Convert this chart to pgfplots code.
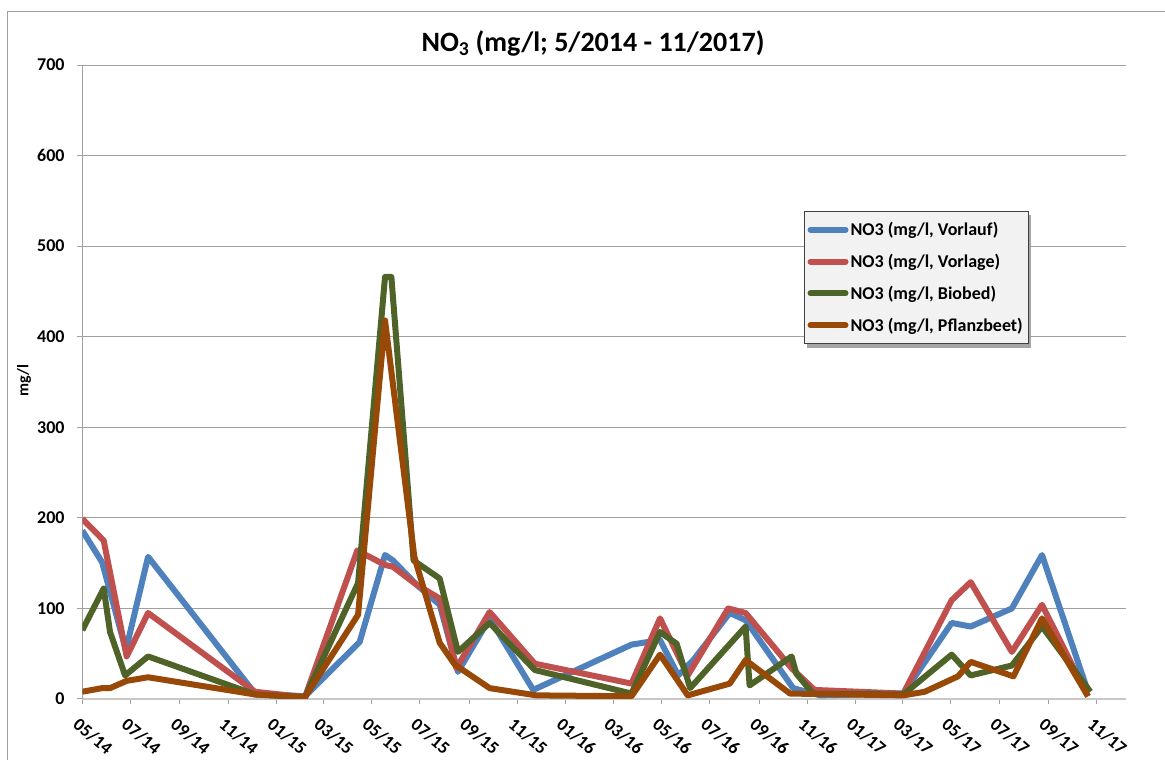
\documentclass[border=0pt]{standalone}
\usepackage{fontspec}
\setmainfont{Carlito}
\usepackage{pgfplots}
\pgfplotsset{compat=1.18}
\usepackage{pgfplotstable}
\usetikzlibrary{backgrounds}

\definecolor{vorlauf}{RGB}{79,129,189}
\definecolor{vorlage}{RGB}{192,80,77}
\definecolor{biobed}{RGB}{79,98,40}
\definecolor{pflanz}{RGB}{152,72,7}
\definecolor{gridgray}{RGB}{160,160,160}
\definecolor{axgray}{RGB}{200,200,200}
\definecolor{legfill}{RGB}{242,242,242}

% x = days since 01.05.2014, y = NO3 in mg/l
\pgfplotstableread{
d v
0 186
25 151
55 54
83 157
218 6
281 3
350 63
382 159
392 153
422 126
451 104
474 30
514 89
569 10
693 60
714 63
729 65
752 26
771 43
817 95
837 87
897 12
931 4
1036 6
1097 84
1121 80
1173 100
1211 159
1269 8
}\vorlauf

\pgfplotstableread{
d v
0 199
27 175
56 47
83 95
218 8
281 2
347 164
382 148
392 146
422 126
451 111
472 34
514 96
571 39
693 17
729 89
764 26
815 100
837 95
895 34
924 10
1036 6
1097 109
1121 129
1173 52
1211 104
1269 3
}\vorlage

\pgfplotstableread{
d v
0 76
27 122
35 74
54 26
83 47
218 5
281 2
348 128
382 466
390 466
418 153
451 133
474 52
514 84
571 32
693 6
729 74
750 61
767 12
837 80
842 15
895 47
901 28
922 6
1036 5
1097 49
1121 26
1173 37
1211 80
1272 8
}\biobed

\pgfplotstableread{
d v
0 8
25 12
35 12
56 20
83 24
218 5
281 2
348 93
382 418
419 157
451 62
470 38
514 12
573 4
693 3
729 49
764 4
817 17
837 43
893 6
1036 4
1063 8
1105 25
1121 41
1175 25
1211 89
1269 3
}\pflanz

\begin{document}
\begin{tikzpicture}
\begin{axis}[
  at={(0pt,0pt)}, anchor=south west,
  scale only axis, width=1043.7pt, height=634pt,
  xmin=0, xmax=1317, ymin=0, ymax=700,
  axis x line=bottom, axis y line=left,
  axis line style={-},
  x axis line style={draw=axgray, line width=1.5pt},
  y axis line style={draw=gridgray, line width=1pt},
  tick align=outside, major tick length=5.5pt,
  tick style={gridgray, line width=1pt},
  ytick={0,100,...,700},
  ymajorgrids, grid style={gridgray, line width=1pt},
  xtick={0,61,123,184,245,304,365,426,488,549,610,670,731,792,854,915,976,1035,1096,1157,1219,1280},
  xticklabels={05/14,07/14,09/14,11/14,01/15,03/15,05/15,07/15,09/15,11/15,01/16,03/16,05/16,07/16,09/16,11/16,01/17,03/17,05/17,07/17,09/17,11/17},
  tick label style={font=\fontsize{18}{20}\selectfont\bfseries},
  /pgf/number format/assume math mode=true,
  yticklabel style={anchor=east, inner sep=0pt, xshift=-12pt},
  xticklabel style={xshift=-2pt, yshift=-12pt, rotate=-40, anchor=north west, inner sep=0pt},
  legend style={name=leg, at={(0.6918,0.7697)}, anchor=north west, fill=legfill,
    draw={rgb,255:red,64;green,64;blue,64},
    font=\fontsize{18}{20}\selectfont\bfseries, row sep=13pt, inner xsep=3pt, inner ysep=9pt},
  legend cell align=left,
  legend image code/.code={\draw[#1, line cap=round] (0pt,0pt) -- (35pt,0pt);},
  every axis plot/.append style={line width=6pt, line join=round},
]
\addplot[vorlauf] table[x=d, y=v] {\vorlauf};
\addplot[vorlage] table[x=d, y=v] {\vorlage};
\addplot[biobed] table[x=d, y=v] {\biobed};
\addplot[pflanz] table[x=d, y=v] {\pflanz};
\legend{{NO3 (mg/l, Vorlauf)}, {NO3 (mg/l, Vorlage)}, {NO3 (mg/l, Biobed)}, {NO3 (mg/l, Pflanzbeet)}}
\end{axis}
\begin{scope}[on background layer]
\fill[black, opacity=0.35] ([xshift=3pt,yshift=-4pt]leg.south west) rectangle ([xshift=3pt,yshift=-4pt]leg.north east);
\end{scope}
\node[font=\fontsize{28}{30}\selectfont\bfseries] at (510.7pt,656pt) {NO\textsubscript{3} (mg/l; 5/2014 - 11/2017)};
\node[rotate=90, font=\fontsize{16}{18}\selectfont\bfseries] at (-58.3pt,318pt) {mg/l};
\draw[gridgray, line width=1pt] (-74.8pt,-61pt) -- (-74.8pt,687.5pt) -- (1082.7pt,687.5pt);
\pgfresetboundingbox
\path[use as bounding box] (-82.3pt,-61pt) rectangle (1082.7pt,699pt);
\end{tikzpicture}
\end{document}
